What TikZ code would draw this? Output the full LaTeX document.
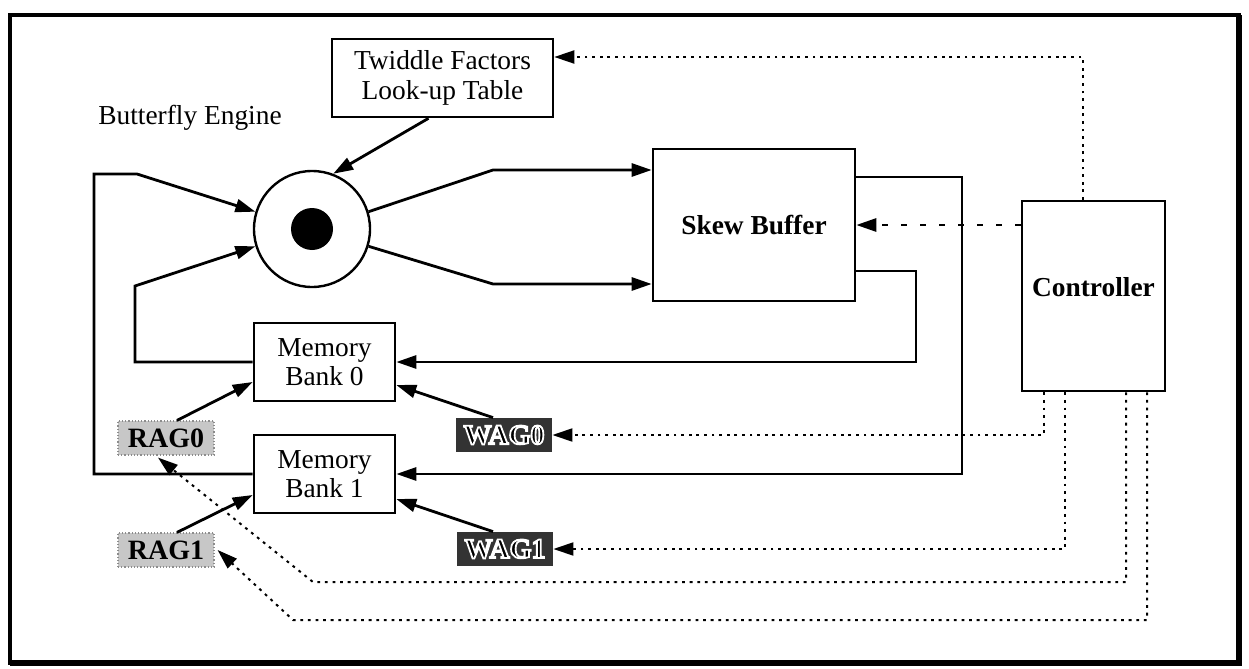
\documentclass[tikz,border=0pt]{standalone}
\usepackage{fontspec}
\setmainfont{Liberation Serif}
\usetikzlibrary{arrows.meta,calc}
\newcommand\basefont{\fontsize{13.7}{14.8}\selectfont}
% dark lettering stroked with a white outline (text render mode 2)
\newcommand\haloword[1]{%
  \special{pdf:literal direct 2 Tr 0.9 w 1 1 1 RG}#1\special{pdf:literal direct 0 Tr}}
\begin{document}
\begin{tikzpicture}[x=0.5pt,y=-0.5pt,
  every node/.style={font=\basefont},
  box/.style={draw,line width=1.3pt,inner sep=0pt,align=center},
  wire/.style={line width=1.4pt},
  tip/.style={-{Triangle[length=10pt,width=6.5pt]}},
  ctl/.style={line width=1pt,dash pattern=on 1.4pt off 2.4pt},
  ctlbig/.style={line width=1.4pt,dash pattern=on 3pt off 6.5pt},
  tag/.style={inner sep=0pt,minimum width=48pt,minimum height=17pt,
    font=\fontsize{14}{14}\selectfont\bfseries},
  rag/.style={tag,fill=black!22,draw=black!45,densely dotted,line width=0.6pt},
  wag/.style={tag,fill=black!80}
]
\useasboundingbox (0,0) rectangle (1249,669);

% outer frame
\draw[line width=1.8pt] (10,15) rectangle (1239,663);
\draw[line width=3pt] (1239,15) -- (1239,663) -- (10,663);

% blocks
\node[box,minimum width=110.5pt,minimum height=39pt] (twid) at (442.5,78)
  {Twiddle Factors\\Look-up Table};
\node (bename) at (190,118) {Butterfly Engine};
\node[circle,draw,line width=1.2pt,minimum size=58pt,inner sep=0pt] (bf) at (312,229) {};
\node[circle,fill,minimum size=21pt,inner sep=0pt] (core) at (bf.center) {};
\node[box,minimum width=101pt,minimum height=76pt,font=\basefont\bfseries] (skew) at (754,225) {Skew Buffer};
\node[box,minimum width=71.5pt,minimum height=95pt] (ctrl) at (1093.5,296) {};
\node[font=\basefont\bfseries] (ctrltext) at (1093.5,287) {Controller};
\node[box,minimum width=70.5pt,minimum height=39pt] (mb0) at (324.5,362) {Memory\\Bank 0};
\node[box,minimum width=70.5pt,minimum height=39pt] (mb1) at (324.5,474) {Memory\\Bank 1};

% address generators
\node[rag] (rag0) at (166,438) {RAG0};
\node[rag] (rag1) at (166,550) {RAG1};
\node[wag] (wag0) at (504,435) {\haloword{WAG0}};
\node[wag] (wag1) at (505,549) {\haloword{WAG1}};

% data paths
\draw[wire,tip] ([xshift=-7pt]twid.south) -- (bf.69);
\draw[wire,tip] (mb1.west) -| (94,174) -- (137,174) -- (bf.163);
\draw[wire,tip] (mb0.west) -| (135,286) -- (bf.197);
\draw[wire,tip] (bf.17) -- (493,170) -- (skew.west |- 0,170);
\draw[wire,tip] (bf.-17) -- (493,284) -- (skew.west |- 0,284);
\draw[wire,tip] (skew.east |- 0,177) -- (962,177) |- (mb1.east);
\draw[wire,tip] (skew.east |- 0,271) -- (916,271) |- (mb0.east);

% address lines
\draw[wire,tip] ([xshift=5.5pt]rag0.north) -- ([yshift=-10pt]mb0.west);
\draw[wire,tip] ([xshift=5.5pt]rag1.north) -- ([yshift=-10.5pt]mb1.west);
\draw[wire,tip] ([xshift=-5.5pt]wag0.north) -- ([yshift=-11.5pt]mb0.east);
\draw[wire,tip] ([xshift=-6pt]wag1.north) -- ([yshift=-12.5pt]mb1.east);

% control lines
\draw[ctlbig,tip] (ctrl.west |- skew.east) -- (skew.east);
\draw[ctl,tip] (ctrl.north -| 1083,0) -- (1083,57) -- (twid.east |- 0,57);
\draw[ctl,tip] (ctrl.south -| 1044,0) |- (wag0.east);
\draw[ctl,tip] (ctrl.south -| 1065,0) |- (wag1.east);
\draw[ctl,tip] (ctrl.south -| 1126,0) -- (1126,582) -- (313,582)
  -- ([xshift=-4pt,yshift=-1pt]rag0.south);
\draw[ctl,tip] (ctrl.south -| 1147,0) -- (1147,620) -- (293,620)
  -- ([xshift=1.5pt]rag1.east);
\end{tikzpicture}
\end{document}
